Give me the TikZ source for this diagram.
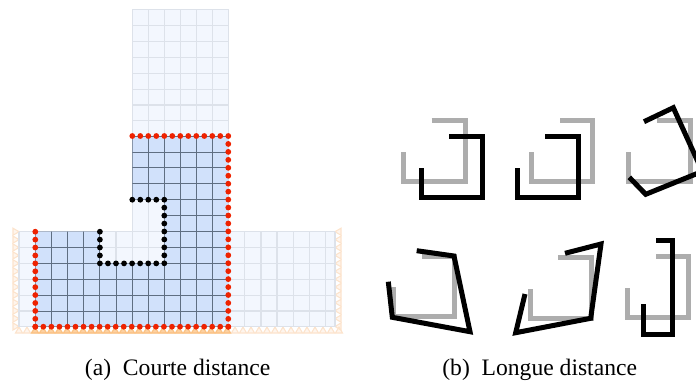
\documentclass[tikz,border=0pt]{standalone}
\usepackage{fontspec}
\setmainfont{Liberation Serif}
\definecolor{lightfill}{HTML}{F3F7FE}
\definecolor{lightline}{HTML}{DDE2EA}
\definecolor{bluefill}{HTML}{D1E1FB}
\definecolor{darkline}{HTML}{5F6E82}
\definecolor{reddot}{HTML}{EE2200}
\definecolor{tripale}{HTML}{FCE3CC}
\definecolor{tridark}{HTML}{FBC283}
\definecolor{greyshape}{HTML}{ADADAD}
\tikzset{
  x=1pt,y=-1pt,
  lightgrid/.style={draw=lightline,line width=1.1pt},
  darkgrid/.style={draw=darkline,line width=1pt},
  shapegray/.style={draw=greyshape,line width=5pt},
  shapeblack/.style={draw=black,line width=5pt},
  tri/.style={draw=tripale,line width=1.1pt,fill=tripale,fill opacity=0.35},
  tridk/.style={draw=tridark,line width=1.1pt,fill=tridark,fill opacity=0.7},
  caption/.style={font=\fontsize{23.6}{26}\selectfont,anchor=base,inner sep=0pt}
}
\newcommand{\reddots}[1]{\fill[reddot] #1 circle (2.9);}
\newcommand{\blackdots}[1]{\fill[black] #1 circle (2.9);}
\begin{document}
\begin{tikzpicture}
\useasboundingbox (0,0) rectangle (696,383);
\clip (0,0) rectangle (696,383);
% supports
\foreach \y in {231.7,239.6,...,327.5} {
  \draw[tri] (19,\y) -- (13,\y-3.5) -- (13,\y+3.5) -- cycle;
  \draw[tri] (335,\y) -- (341,\y-3.5) -- (341,\y+3.5) -- cycle;
}
\foreach \x in {19,27,...,339} {
  \draw[tri] (\x,327) -- (\x-3.5,333) -- (\x+3.5,333) -- cycle;
}
% light T
\fill[lightfill] (19,231.7) -- (132.3,231.7) -- (132.3,9.3) -- (228.3,9.3) -- (228.3,231.7) -- (335,231.7) -- (335,326.7) -- (19,326.7) -- cycle;
\foreach \x in {132.3,148.3,164.3,180.3,196.3,212.3,228.3}
  \draw[lightgrid] (\x,9.3) -- (\x,231.7);
\foreach \y in {9.3,25.2,41.2,57.2,73.2,89.2,105,120.7}
  \draw[lightgrid] (132.3,\y) -- (228.3,\y);
\foreach \x in {19,35.3,51.5,67.6,83.7,99.9,116,132.2,148.3,164.4,180.5,196.6,212.7,228.8,244.9,261,277,293.2,309.3,325.6,335}
  \draw[lightgrid] (\x,231.7) -- (\x,326.7);
\foreach \y in {231.7,247.6,263.4,279.3,295.2,311,326.7}
  \draw[lightgrid] (19,\y) -- (335,\y);
% deformed blue region
\fill[bluefill] (132.3,136) -- (228.3,136) -- (228.3,326.7) -- (35.3,326.7) -- (35.3,231.7) -- (99.9,231.7) -- (99.9,263.4) -- (164.3,263.4) -- (164.3,199.7) -- (132.3,199.7) -- cycle;
\begin{scope}
\clip (132.3,136) -- (228.3,136) -- (228.3,326.7) -- (35.3,326.7) -- (35.3,231.7) -- (99.9,231.7) -- (99.9,263.4) -- (164.3,263.4) -- (164.3,199.7) -- (132.3,199.7) -- cycle;
\foreach \x in {35.3,51.5,67.6,83.7,99.9,116,132.2,148.3,164.4,180.5,196.6,212.7,228.5}
  \draw[darkgrid] (\x,136) -- (\x,326.7);
\foreach \y in {136,152,167.9,183.8,199.7,215.6,231.7,247.6,263.4,279.3,295.2,311,326.7}
  \draw[darkgrid] (35.3,\y) -- (228.3,\y);
\end{scope}
% darker supports under blue base
\foreach \x in {35,43,...,227} {
  \draw[tridk] (\x,327.5) -- (\x-3.5,333) -- (\x+3.5,333) -- cycle;
}
% red boundary nodes
\foreach \i in {0,...,12} {\reddots{(132.3+8*\i,136)}}
\foreach \i in {1,...,24} {\reddots{(228.3,136+7.95*\i)}}
\foreach \i in {0,...,24} {\reddots{(35.3+8.04*\i,326.7)}}
\foreach \i in {0,...,12} {\reddots{(35.3,231.7+7.92*\i)}}
% black interface nodes
\foreach \i in {0,...,4} {\blackdots{(132.3+8*\i,199.7)}}
\foreach \i in {1,...,8} {\blackdots{(164.3,199.7+7.95*\i)}}
\foreach \i in {0,...,7} {\blackdots{(99.9+8.05*\i,263.4)}}
\foreach \i in {0,...,3} {\blackdots{(99.9,231.7+7.92*\i)}}
% right: six pairs
\draw[shapegray] (431.7,120) -- (465,120) -- (465,181) -- (403.3,181) -- (403.3,151.7);
\draw[shapeblack] (449.3,136) -- (482,136) -- (482,197.3) -- (421.3,197.3) -- (421.3,167.7);
\draw[shapegray] (560,120) -- (592.7,120) -- (592.7,181) -- (531,181) -- (531,151.7);
\draw[shapeblack] (545.3,136) -- (578.3,136) -- (578.3,197.3) -- (517,197.3) -- (517,167.7);
\draw[shapegray] (657.3,120) -- (690,120) -- (690,181) -- (628.7,181) -- (628.7,151.7);
\draw[shapeblack] (644,121.7) -- (673.3,107.7) -- (702.3,171.4) -- (645.7,194.3) -- (629.3,177.3);
\draw[shapegray] (421.7,256.7) -- (454,256.7) -- (454,316.7) -- (393.3,316.7) -- (393.3,287.3);
\draw[shapeblack] (416.7,250.7) -- (454,256) -- (470,331.7) -- (392.3,317.3) -- (388.3,281.7);
\draw[shapegray] (558.3,257.3) -- (591,257.3) -- (591,318.3) -- (530,318.3) -- (530,289.3);
\draw[shapeblack] (565,253.3) -- (601,244) -- (590.7,318.3) -- (515.7,332.7) -- (525,294);
\draw[shapegray] (656,256) -- (688.3,256) -- (688.3,317.7) -- (627,317.7) -- (627,287.7);
\draw[shapeblack] (656,240) -- (672.3,240) -- (672.3,334) -- (643.3,334) -- (643.3,304);
% captions
\node[caption] (capa) at (177.7,375) {(a)\hspace{0.5em}Courte distance};
\node[caption] (capb) at (539.7,375) {(b)\hspace{0.5em}Longue distance};
\end{tikzpicture}
\end{document}
